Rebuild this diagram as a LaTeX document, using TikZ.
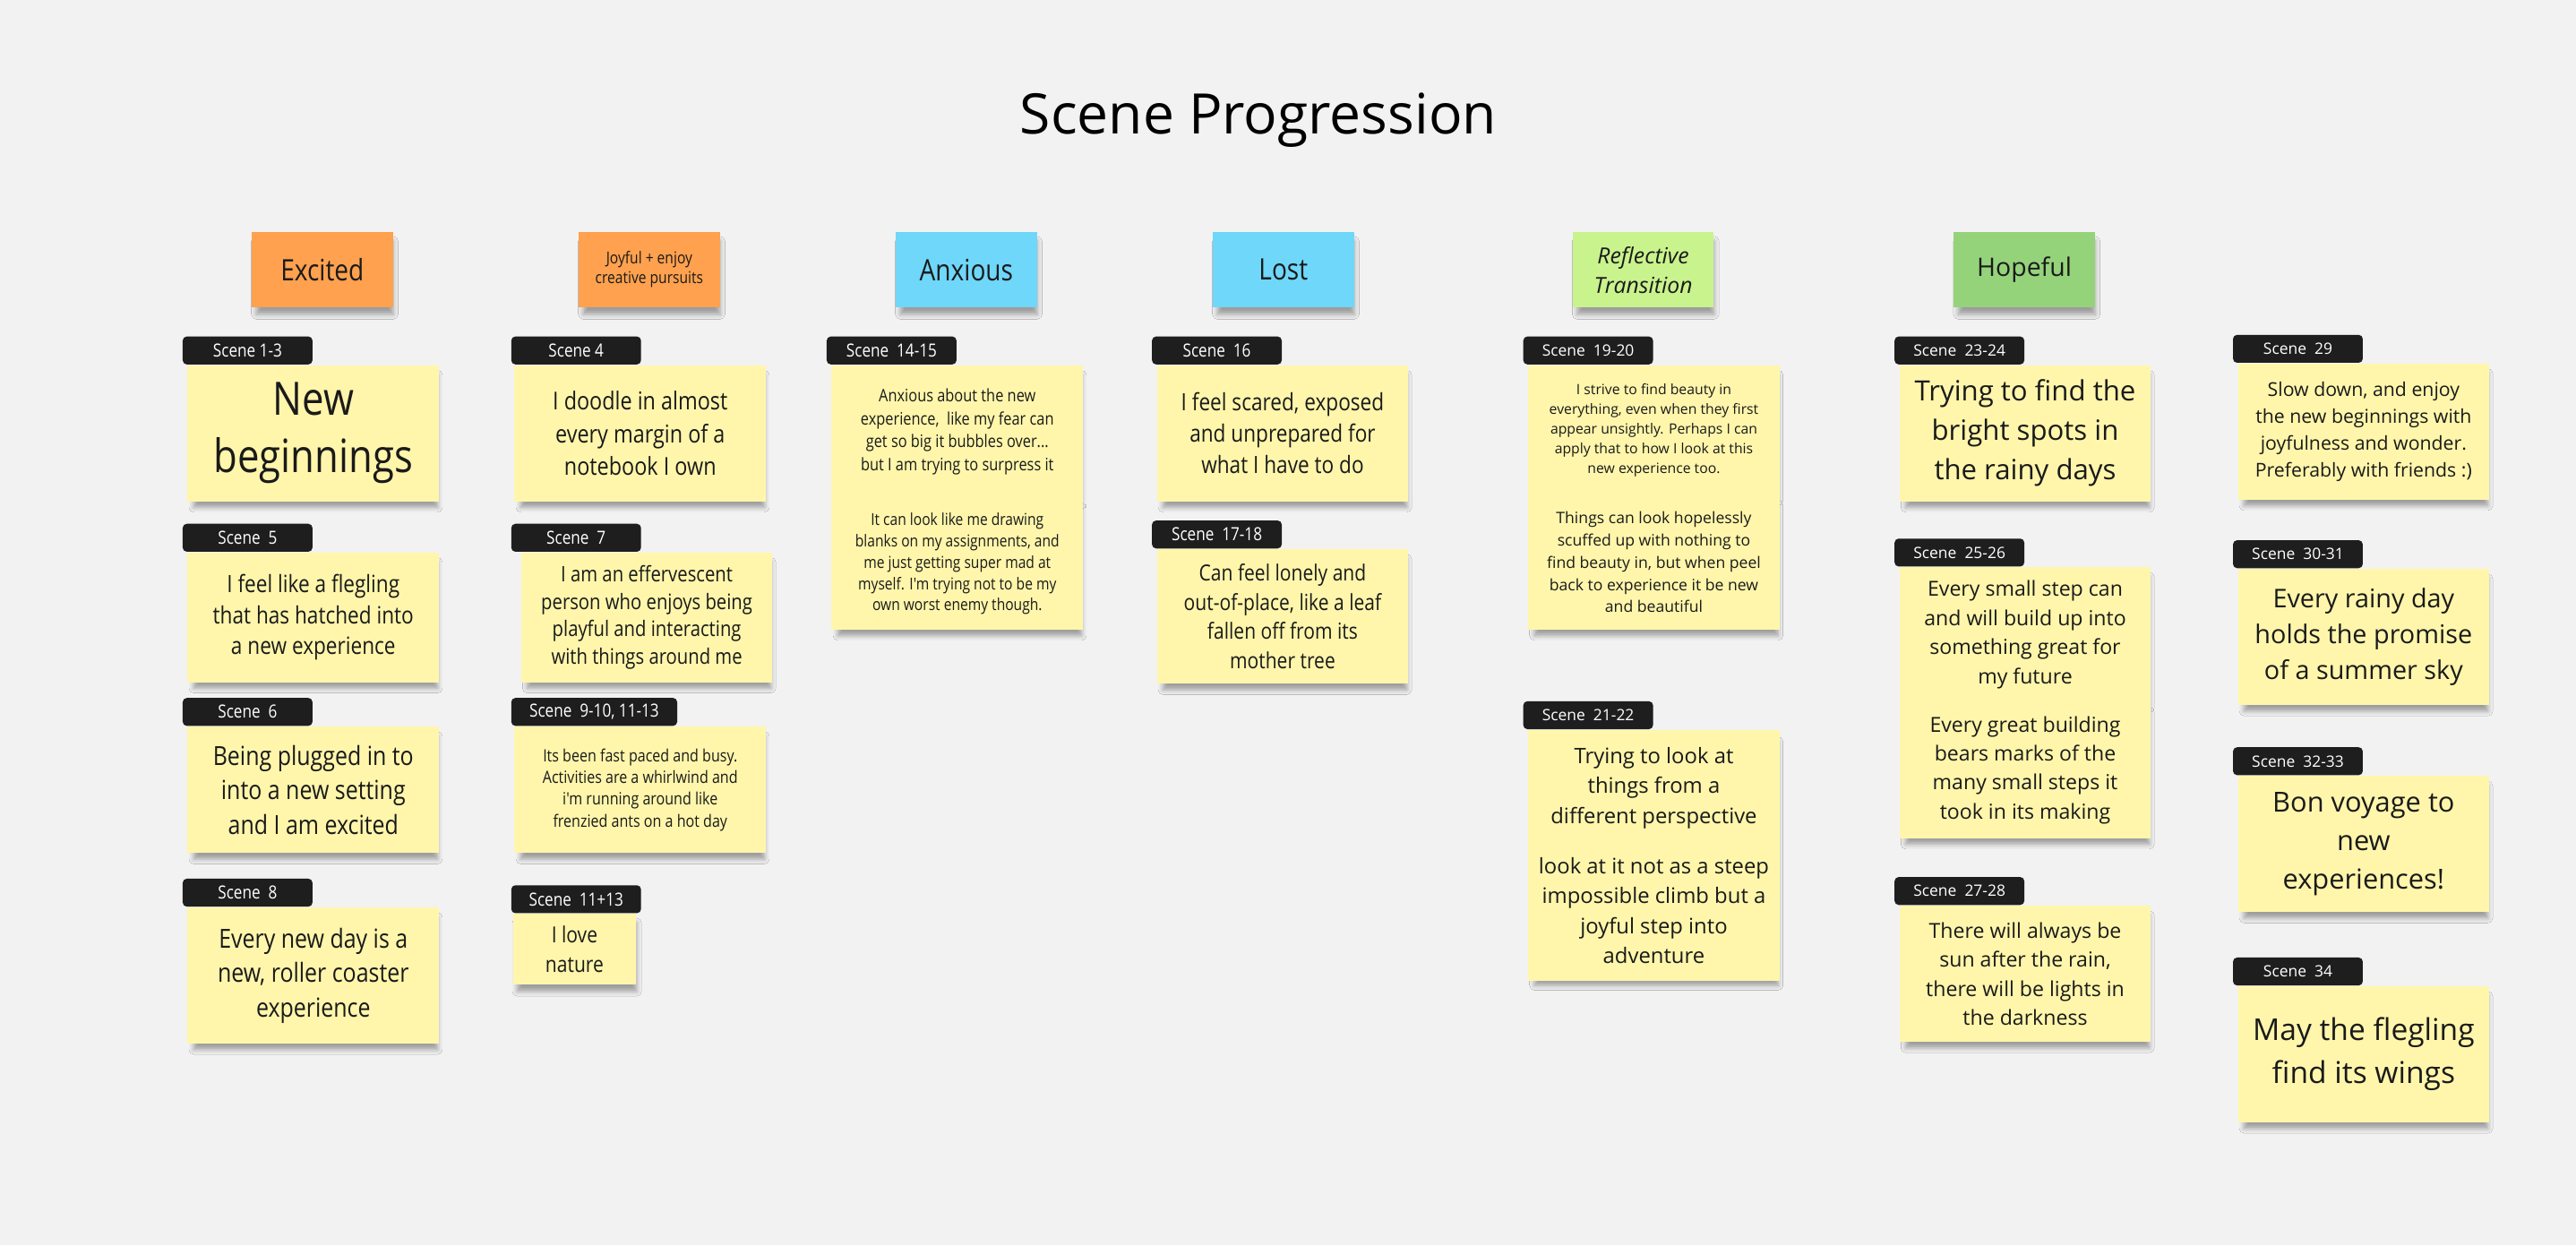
\documentclass[tikz,border=0pt]{standalone}
\usepackage{fontspec}
\setmainfont{Open Sans}
\newfontfamily\narrowfont{Open Sans}[FakeStretch=0.85]
\usetikzlibrary{positioning, shadows.blur}

\definecolor{board}{HTML}{F2F2F2}
\definecolor{stickyyellow}{HTML}{FFF6AB}
\definecolor{stickyorange}{HTML}{FFA14E}
\definecolor{stickyblue}{HTML}{6ED7FA}
\definecolor{stickylime}{HTML}{C9F38D}
\definecolor{stickygreen}{HTML}{95D37B}
\definecolor{tagblack}{HTML}{1E1E1E}
\definecolor{ink}{HTML}{1A1A1A}

\newcommand{\fsz}[2]{\fontsize{#1}{#2}\selectfont}

\tikzset{
	sticky/.style={anchor=north west, inner sep=2pt, align=center, text=ink,
		blur shadow={shadow xshift=1.5pt, shadow yshift=-5pt, shadow scale=0.97, shadow opacity=35, shadow blur radius=3pt}},
	note/.style={sticky, fill=stickyyellow, minimum width=153pt, minimum height=#1},
	note/.default=83pt,
	mood/.style={sticky, fill=#1, minimum width=86pt, minimum height=46pt},
	tag/.style={fill=tagblack, text=white, rounded corners=2.5pt, minimum width=79pt,
		minimum height=17pt, inner sep=0pt, font=\fsz{9.5}{11}},
	narrowtag/.style={tag, font=\narrowfont\fsz{11}{12}},
}

\begin{document}
\begin{tikzpicture}[x=1pt, y=-1pt]
	\useasboundingbox (0,0) rectangle (1568,758);
	\fill[board] (0,0) rectangle (1568,758);

	\node (title) at (766,73) {\fsz{34}{40}Scene Progression};

	% moods
	\node (excited) at (153,141) [mood=stickyorange, font=\narrowfont\fsz{18}{22}] {Excited};
	\node (joyful) at (352,141) [mood=stickyorange, font=\narrowfont\fsz{10}{12}] {Joyful + enjoy\\creative pursuits};
	\node (anxious) at (545,141) [mood=stickyblue, font=\narrowfont\fsz{18}{22}] {Anxious};
	\node (lost) at (738,141) [mood=stickyblue, font=\narrowfont\fsz{18}{22}] {Lost};
	\node (reflective) at (957,141) [mood=stickylime, font=\itshape\fsz{13.5}{18}] {Reflective\\Transition};
	\node (hopeful) at (1189,141) [mood=stickygreen, font=\fsz{15.5}{18}] {Hopeful};

	% excited
	\node (n13) at (114,222) [note, font=\narrowfont\fsz{28}{35}] {New\\beginnings};
	\node (n5) at (114,336) [note=79pt, font=\narrowfont\fsz{14.5}{19}] {I feel like a flegling\\that has hatched into\\a new experience};
	\node (n6) at (114,442) [note=77pt, font=\narrowfont\fsz{16}{21}] {Being plugged in to\\into a new setting\\and I am excited};
	\node (n8) at (114,552) [note, font=\narrowfont\fsz{16}{21}] {Every new day is a\\new, roller coaster\\experience};
	\node (t13) [narrowtag, above right=0pt and -3pt of n13.north west] {Scene 1-3};
	\node (t5) [narrowtag, above right=0pt and -3pt of n5.north west] {Scene~ 5};
	\node (t6) [narrowtag, above right=0pt and -3pt of n6.north west] {Scene~ 6};
	\node (t8) [narrowtag, above right=0pt and -3pt of n8.north west] {Scene~ 8};

	% joyful
	\node (n4) at (313,222) [note, font=\narrowfont\fsz{15}{20}] {I doodle in almost\\every margin of a\\notebook I own};
	\node (n7) at (317,336) [note=79pt, font=\narrowfont\fsz{13}{16.7}] {I am an effervescent\\person who enjoys being\\playful and interacting\\with things around me};
	\node (n9) at (313,442) [note=77pt, font=\narrowfont\fsz{10.3}{13.3}] {Its been fast paced and busy.\\Activities are a whirlwind and\\i'm running around like\\frenzied ants on a hot day};
	\node (n11) at (312,556) [note=43pt, minimum width=75pt, font=\narrowfont\fsz{13.5}{18}] {I love\\nature};
	\node (t4) [narrowtag, above right=0pt and -2pt of n4.north west] {Scene 4};
	\node (t7) [narrowtag, above right=0pt and -6pt of n7.north west] {Scene~ 7};
	\node (t9) [narrowtag, minimum width=101pt, above right=0pt and -2pt of n9.north west] {Scene~ 9-10, 11-13};
	\node (t11) [narrowtag, above right=0pt and -1pt of n11.north west] {Scene~ 11+13};

	% anxious
	\node (n14a) at (506,222) [note=81pt, font=\narrowfont\fsz{10.5}{14}] {Anxious about the new\\experience,~ like my fear can\\get so big it bubbles over...\\but I am trying to surpress it};
	\node (n14b) at (506,303) [note=80pt, font=\narrowfont\fsz{10}{13}] {It can look like me drawing\\blanks on my assignments, and\\me just getting super mad at\\myself. I'm trying not to be my\\own worst enemy though.};
	\node (t14) [narrowtag, above right=0pt and -3pt of n14a.north west] {Scene~ 14-15};

	% lost
	\node (n16) at (704,222) [note, font=\narrowfont\fsz{14.5}{19}] {I feel scared, exposed\\and unprepared for\\what I have to do};
	\node (n17) at (704,334) [note=82pt, font=\narrowfont\fsz{13.5}{17.7}] {Can feel lonely and\\out-of-place, like a leaf\\fallen off from its\\mother tree};
	\node (t16) [narrowtag, above right=0pt and -3pt of n16.north west] {Scene~ 16};
	\node (t17) [narrowtag, above right=0pt and -3pt of n17.north west] {Scene~ 17-18};

	% reflective transition
	\node (n19a) at (930,222) [note=79pt, font=\fsz{8.6}{12}] {I strive to find beauty in\\everything, even when they first\\appear unsightly. Perhaps I can\\apply that to how I look at this\\new experience too.};
	\node (n19b) at (930,301) [note=82pt, font=\fsz{9.6}{13.5}] {Things can look hopelessly\\scuffed up with nothing to\\find beauty in, but when peel\\back to experience it be new\\and beautiful};
	\node (n21) at (930,444) [note=153pt, font=\fsz{13}{18.3}] {Trying to look at\\things from a\\different perspective\\[12pt]look at it not as a steep\\impossible climb but a\\joyful step into\\adventure};
	\node (t19) [tag, above right=0pt and -3pt of n19a.north west] {Scene~ 19-20};
	\node (t21) [tag, above right=0pt and -3pt of n21.north west] {Scene~ 21-22};

	% hopeful
	\node (n23) at (1156,222) [note, font=\fsz{17}{24}] {Trying to find the\\bright spots in\\the rainy days};
	\node (n25a) at (1156,345) [note=82pt, font=\fsz{12.6}{17.7}] {Every small step can\\and will build up into\\something great for\\my future};
	\node (n25b) at (1156,427) [note, font=\fsz{12.6}{17.7}] {Every great building\\bears marks of the\\many small steps it\\took in its making};
	\node (n27) at (1156,551) [note, font=\fsz{12.6}{17.7}] {There will always be\\sun after the rain,\\there will be lights in\\the darkness};
	\node (t23) [tag, above right=0pt and -3pt of n23.north west] {Scene~ 23-24};
	\node (t25) [tag, above right=0pt and -3pt of n25a.north west] {Scene~ 25-26};
	\node (t27) [tag, above right=0pt and -3pt of n27.north west] {Scene~ 27-28};

	% last column
	\node (n29) at (1362,221) [note, font=\fsz{11.6}{16.3}] {Slow down, and enjoy\\the new beginnings with\\joyfulness and wonder.\\Preferably with friends :)};
	\node (n30) at (1362,346) [note, font=\fsz{15.7}{22}] {Every rainy day\\holds the promise\\of a summer sky};
	\node (n32) at (1362,472) [note, font=\fsz{16.8}{23.5}] {Bon voyage to\\new\\experiences!};
	\node (n34) at (1362,600) [note, font=\fsz{18.3}{26}] {May the flegling\\find its wings};
	\node (t29) [tag, above right=0pt and -3pt of n29.north west] {Scene~ 29};
	\node (t30) [tag, above right=0pt and -3pt of n30.north west] {Scene~ 30-31};
	\node (t32) [tag, above right=0pt and -3pt of n32.north west] {Scene~ 32-33};
	\node (t34) [tag, above right=0pt and -3pt of n34.north west] {Scene~ 34};
\end{tikzpicture}
\end{document}
